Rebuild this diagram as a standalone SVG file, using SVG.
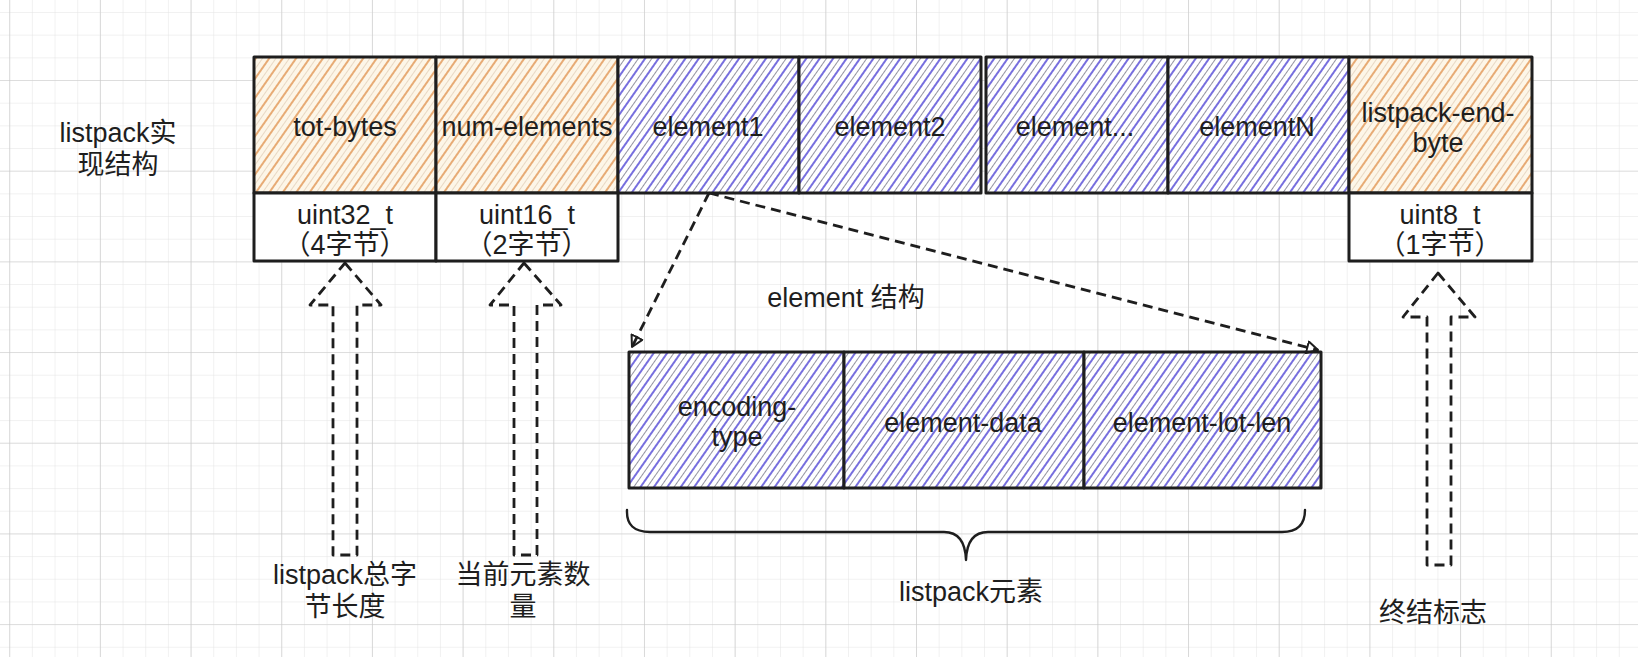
<svg xmlns="http://www.w3.org/2000/svg" width="1638" height="657" viewBox="0 0 1638 657">
<style>
.t{font-family:"Liberation Sans","Noto Sans CJK SC",sans-serif;font-size:27px;fill:#1e1e1e;text-anchor:middle;dominant-baseline:central}
.box{stroke:#1e1e1e;stroke-width:3;stroke-linejoin:round}
.org{fill:url(#hOrange)}
.blu{fill:url(#hBlue)}
.wht{fill:#ffffff}
.hollow{fill:none;stroke:#1e1e1e;stroke-width:2.8;stroke-dasharray:10 6;stroke-linejoin:round}
.dash{fill:none;stroke:#1e1e1e;stroke-width:2.8;stroke-dasharray:10 6}
.brace{fill:none;stroke:#1e1e1e;stroke-width:2.4;stroke-linejoin:round;stroke-linecap:round}
</style>
<defs>
<pattern id="gMinor" patternUnits="userSpaceOnUse" x="9.2" y="12" width="22.67" height="22.67">
<path d="M0,0 V22.67 M0,0 H22.67" stroke="#e3e3e3" stroke-width="1" fill="none"/>
</pattern>
<pattern id="gMajor" patternUnits="userSpaceOnUse" x="9.2" y="80" width="90.68" height="90.68">
<path d="M0,0 V90.68 M0,0 H90.68" stroke="#c9c9c9" stroke-width="1.2" fill="none"/>
</pattern>
<pattern id="hOrange" patternUnits="userSpaceOnUse" width="11" height="20" patternTransform="rotate(35)">
<rect width="11" height="20" fill="#fdf6e8"/>
<line x1="1" y1="0" x2="1" y2="20" stroke="#e0924e" stroke-width="1.5"/>
<line x1="6.5" y1="0" x2="6.5" y2="20" stroke="#c0a080" stroke-width="0.7" opacity="0.5"/>
</pattern>
<pattern id="hBlue" patternUnits="userSpaceOnUse" width="11" height="20" patternTransform="rotate(35)">
<rect width="11" height="20" fill="#ffffff"/>
<line x1="1" y1="0" x2="1" y2="20" stroke="#4a3fd4" stroke-width="1.5"/>
<line x1="6.5" y1="0" x2="6.5" y2="20" stroke="#55556a" stroke-width="0.9" opacity="0.7"/>
</pattern>
<marker id="arr" viewBox="0 0 14 14" refX="12" refY="7" markerWidth="14" markerHeight="14" markerUnits="userSpaceOnUse" orient="auto">
<path d="M1,1 L12,7 L1,13 Z" fill="none" stroke="#1e1e1e" stroke-width="2" stroke-linejoin="round"/>
</marker>
</defs>
<rect width="1638" height="657" fill="#ffffff"/>
<rect width="1638" height="657" fill="url(#gMinor)"/>
<rect width="1638" height="657" fill="url(#gMajor)"/>

<g id="title">
<text class="t" x="118" y="133">listpack实</text>
<text class="t" x="118" y="165">现结构</text>
</g>

<g id="tot-bytes">
<rect class="box org" x="254" y="57" width="182" height="136"/>
<text class="t" x="345" y="127">tot-bytes</text>
<rect class="box wht" x="254" y="193" width="182" height="68"/>
<text class="t" x="345" y="215">uint32_t</text>
<text class="t" x="345" y="245">（4字节）</text>
</g>
<g id="num-elements">
<rect class="box org" x="436" y="57" width="182" height="136"/>
<text class="t" x="527" y="127">num-elements</text>
<rect class="box wht" x="436" y="193" width="182" height="68"/>
<text class="t" x="527" y="215">uint16_t</text>
<text class="t" x="527" y="245">（2字节）</text>
</g>
<g id="element1">
<rect class="box blu" x="618" y="57" width="181" height="136"/>
<text class="t" x="708" y="127">element1</text>
</g>
<g id="element2">
<rect class="box blu" x="799" y="57" width="182" height="136"/>
<text class="t" x="890" y="127">element2</text>
</g>
<g id="element-dots">
<rect class="box blu" x="986" y="57" width="182" height="136"/>
<text class="t" x="1075" y="127">element...</text>
</g>
<g id="elementN">
<rect class="box blu" x="1168" y="57" width="181" height="136"/>
<text class="t" x="1257" y="127">elementN</text>
</g>
<g id="listpack-end-byte">
<rect class="box org" x="1349" y="57" width="183" height="136"/>
<text class="t" x="1438" y="113">listpack-end-</text>
<text class="t" x="1438" y="143">byte</text>
<rect class="box wht" x="1349" y="193" width="183" height="68"/>
<text class="t" x="1440" y="215">uint8_t</text>
<text class="t" x="1440" y="245">（1字节）</text>
</g>

<g id="element-structure-label">
<text class="t" x="846" y="298">element 结构</text>
</g>
<g id="encoding-type">
<rect class="box blu" x="629" y="352" width="215" height="136"/>
<text class="t" x="737" y="407">encoding-</text>
<text class="t" x="737" y="437">type</text>
</g>
<g id="element-data">
<rect class="box blu" x="844" y="352" width="240" height="136"/>
<text class="t" x="963" y="423">element-data</text>
</g>
<g id="element-lot-len">
<rect class="box blu" x="1084" y="352" width="237" height="136"/>
<text class="t" x="1202" y="423">element-lot-len</text>
</g>

<g id="brace">
<path class="brace" d="M627,510 Q626,532 650,532 L944,532 Q965,532 966,560 Q967,532 988,532 L1282,532 Q1305,532 1305,510"/>
<text class="t" x="971" y="592">listpack元素</text>
</g>

<g id="label-total">
<text class="t" x="345" y="575">listpack总字</text>
<text class="t" x="345" y="607">节长度</text>
</g>
<g id="label-count">
<text class="t" x="523" y="575">当前元素数</text>
<text class="t" x="523" y="607">量</text>
</g>
<g id="label-end">
<text class="t" x="1433" y="613">终结标志</text>
</g>

<g id="connectors">
<path class="hollow" d="M345,263 L381,305 L357,305 L357,555 L333,555 L333,305 L310,305 Z"/>
<path class="hollow" d="M524,263 L561,305 L537,305 L537,555 L514,555 L514,305 L490,305 Z"/>
<path class="hollow" d="M1438,273 L1475,317 L1451,317 L1451,565 L1427,565 L1427,317 L1403,317 Z"/>
<path class="dash" d="M709,193 L632,347" marker-end="url(#arr)"/>
<path class="dash" d="M709,193 L1318,350" marker-end="url(#arr)"/>
</g>
</svg>
